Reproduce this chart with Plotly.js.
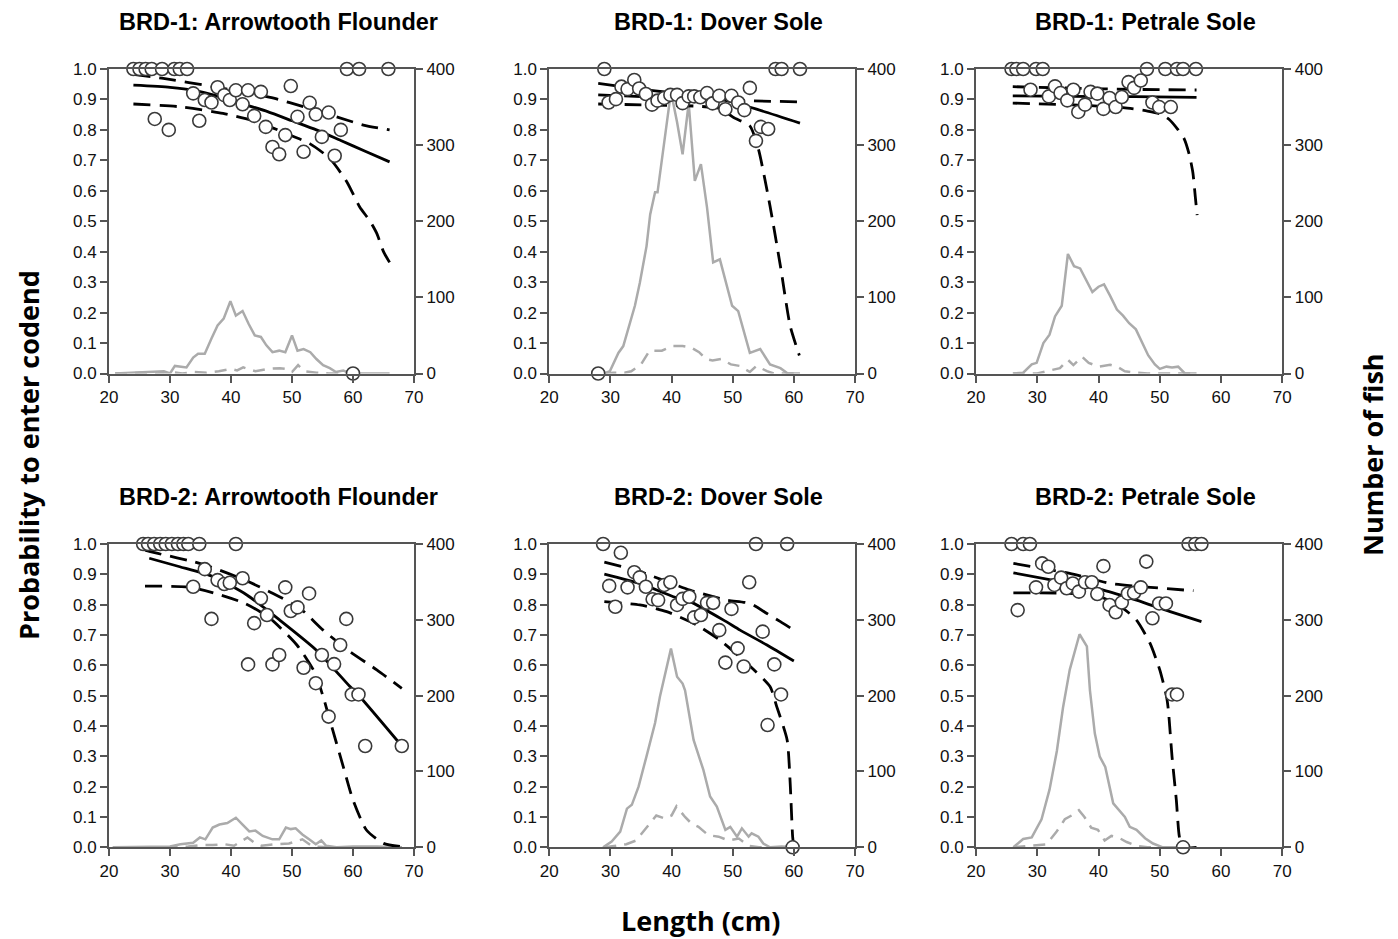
<!DOCTYPE html>
<html><head><meta charset="utf-8">
<script src="https://cdn.plot.ly/plotly-3.0.1.min.js"></script>
<style>html,body{margin:0;padding:0;background:#fff}</style>
</head><body><div id="chart" style="width:1398px;height:939px"></div>
<script>
// ---------- Panel titles ----------
const panelTitles = ['BRD-1: Arrowtooth Flounder','BRD-1: Dover Sole','BRD-1: Petrale Sole',
                     'BRD-2: Arrowtooth Flounder','BRD-2: Dover Sole','BRD-2: Petrale Sole'];
const xTicks = [20,30,40,50,60,70];
const probTicks = [0,0.1,0.2,0.3,0.4,0.5,0.6,0.7,0.8,0.9,1.0];
const countTicks = [0,100,200,300,400];

// ---------- BRD-1 Arrowtooth ----------
const lenA1 = [24,25,26,27,28.7,30.7,31.6,32.8,59,61,65.8,60,27.5,29.8,33.8,34.8,35.7,36.8,37.8,38.9,39.8,40.8,41.9,42.8,43.8,44.9,45.7,46.8,47.9,48.9,49.8,50.9,51.9,52.9,53.9,54.9,56,57,58];
const probA1 = [1,1,1,1,1,1,1,1,1,1,1,0,0.836,0.80,0.92,0.83,0.898,0.89,0.94,0.914,0.898,0.93,0.884,0.93,0.846,0.925,0.81,0.744,0.72,0.783,0.944,0.843,0.728,0.889,0.851,0.777,0.857,0.715,0.80];
const fitLenA1 = [24,30,34,38,42,46,50,54,58,62,66];
const fitA1    = [0.947,0.94,0.93,0.91,0.885,0.86,0.83,0.80,0.765,0.73,0.695];
const upLenA1  = [24,28.9,37.1,47,52.4,57.3,61.7,66];
const upA1     = [0.982,0.969,0.942,0.904,0.873,0.843,0.816,0.80];
const loLenA1  = [24,31.6,38.7,44.2,49.1,52.9,56.2,59,61.1,62.8,63.9,65,66];
const loA1     = [0.885,0.876,0.854,0.827,0.788,0.755,0.706,0.629,0.547,0.50,0.46,0.40,0.365];
const nLenA1   = [21,24,27,29,30,30.8,32.7,33.8,34.6,35.7,36.8,37.8,38.8,39.9,40.8,41.9,42.9,43.9,44.9,45.8,46.8,47.9,48.9,50,50.9,51.9,53,54,55.1,56.2,57.2,58.4,59.5,62,66];
const nTotA1   = [0,1,2,3,0,10,8,21,26,26,46,63,72,95,76,82,65,50,48,37,28,30,28,50,30,32,28,19,11,7,2,4,0,0,0];
const dLenA1   = [21,25,28,30,32,34,36,38,40,41,42,43,44,46,48,49,50,51,52,54,56,58,60];
const nSubA1   = [0,1,0,2,0,2,1,3,6,4,8,5,3,6,7,6,2,11,3,1,0,0,0];

// ---------- BRD-1 Dover ----------
const lenA2 = [29,57,58,61,28,29.7,30.9,31.8,32.8,33.9,34.7,35.8,36.8,37.7,38.8,39.8,40.9,41.8,42.8,43.7,44.7,45.8,46.7,47.8,48.8,49.8,50.9,51.9,52.8,53.8,54.6,55.8];
const probA2 = [1,1,1,1,0,0.89,0.901,0.942,0.934,0.964,0.936,0.918,0.883,0.896,0.905,0.915,0.915,0.888,0.91,0.91,0.907,0.921,0.887,0.912,0.868,0.912,0.89,0.865,0.938,0.764,0.81,0.803];
const fitLenA2 = [28,34.8,40,43,49,53.9,61];
const fitA2    = [0.953,0.934,0.922,0.915,0.896,0.868,0.822];
const upLenA2  = [28,40,50,61];
const upA2     = [0.915,0.905,0.897,0.892];
const loLenA2  = [28,36,44,48,50.1,52.8,54.2,56.1,57.8,59.4,60.9];
const loA2     = [0.885,0.882,0.878,0.87,0.841,0.813,0.737,0.55,0.353,0.156,0.059];
const nLenA2   = [28,29,29.9,31.3,32.1,34,34.8,35.9,36.5,37.3,37.7,39.9,40.9,41.8,42.8,43.8,44.8,45.8,46.8,47.9,49.9,50.9,52.8,54.5,56.1,57.8,59,61];
const nTotA2   = [0,0,3,27,36,89,119,167,209,238,238,370,330,288,355,253,275,218,146,150,89,82,27,32,12,7,0,0];
const dLenA2   = [29,30.5,32.3,33.4,35,36.4,38.4,40.1,41.8,43.2,44.5,45.6,46.7,48.1,49.7,51.1,52.8,53.9,55.6,56.7,60];
const nSubA2   = [0,1,1,3,12,30,30,36,36,34,28,19,17,19,12,10,2,10,3,0,0];

// ---------- BRD-1 Petrale ----------
const lenA3 = [25.8,26.6,27.7,29.8,30.9,47.9,50.9,52.8,53.8,55.9,28.9,31.9,32.9,33.8,34.9,35.9,36.7,37.8,38.7,39.8,40.8,41.8,42.8,43.8,44.9,45.8,46.9,48.8,49.9,51.8];
const probA3 = [1,1,1,1,1,1,1,1,1,1,0.932,0.91,0.943,0.921,0.897,0.932,0.859,0.883,0.925,0.919,0.869,0.905,0.875,0.908,0.957,0.938,0.962,0.89,0.875,0.875];
const fitLenA3 = [26,36,46,56];
const fitA3    = [0.912,0.91,0.909,0.907];
const upLenA3  = [26,36,46,56];
const upA3     = [0.942,0.937,0.933,0.931];
const loLenA3  = [26,36,44,48,50,51.5,53,54,54.8,55.4,55.8,56.1];
const loA3     = [0.888,0.882,0.873,0.862,0.853,0.835,0.80,0.77,0.72,0.66,0.58,0.52];
const nLenA3   = [26.1,27.7,29.1,29.9,31,32,32.9,34,35,36,37,38.1,39,40,40.9,41.9,43,44,45,46.1,47.1,48.1,49.2,50,51.1,52,53,54.1,56];
const nTotA3   = [0,1,12,14,40,51,75,89,157,141,138,121,107,114,117,102,84,76,66,58,41,24,12,6,9,8,9,0,0];
const dLenA3   = [26,30,31.5,33.7,35,35.9,37.3,38.4,40,41.9,43,44.3,46.2,48,56];
const nSubA3   = [0,0,3,7,18,11,22,14,9,11.5,9,3,1,0,0];

// ---------- BRD-2 Arrowtooth ----------
const lenB1 = [25.6,26.4,27.4,28.4,29.3,30.3,31.3,32.2,33.0,34.8,40.8,33.8,35.7,36.8,37.8,38.9,39.8,41.9,42.8,43.8,44.9,45.9,46.8,47.9,48.9,49.8,50.9,51.9,52.8,53.9,54.9,56,56.9,57.9,58.9,59.8,60.9,62,68];
const probB1 = [1,1,1,1,1,1,1,1,1,1,1,0.859,0.917,0.753,0.881,0.868,0.872,0.887,0.603,0.739,0.821,0.766,0.603,0.634,0.857,0.779,0.791,0.592,0.837,0.541,0.634,0.431,0.604,0.667,0.753,0.504,0.504,0.334,0.334];
const fitLenB1 = [26.6,31.6,37.1,42.6,48,54,59.5,61.1,68];
const fitB1    = [0.953,0.925,0.892,0.832,0.749,0.65,0.53,0.497,0.334];
const upLenB1  = [25.9,28.4,33.8,37.7,42.3,46.9,51.3,55.1,59.5,63.9,68];
const upB1     = [0.98,0.967,0.942,0.917,0.881,0.837,0.788,0.716,0.645,0.585,0.524];
const loLenB1  = [25.9,33,37.1,42.3,46.4,50.8,53.8,55.1,56.2,58.4,60,62.2,65,68];
const loB1     = [0.861,0.858,0.839,0.804,0.755,0.667,0.574,0.497,0.42,0.266,0.156,0.057,0.013,0.002];
const nLenB1   = [20.6,26,30,31.7,33.8,34.9,35.8,37,38.1,39.4,40.8,41.9,43,44,45.2,46.8,47.9,49,49.8,50.6,51.7,52.8,53.9,54.8,55.6,57.3,60,64,68];
const nTotB1   = [0,1,1,4,6,13,10.5,26,30,32,39,30,21,22,15,10.5,10.5,26,24,25,17,10.5,4,9,2,0,1,1,0];
const dLenB1   = [26,30,33,35,37,39,40.5,42.7,44,45,47.3,49.5,51.7,53.4,56,60,68];
const nSubB1   = [0,0,1,3,3,4,2,13,5,2,4,5,10.5,1,0,0,0];

// ---------- BRD-2 Dover ----------
const lenB2 = [28.8,53.8,58.9,59.8,31.7,29.8,30.8,32.8,33.9,34.8,35.8,36.9,37.8,38.8,39.8,40.9,41.8,42.9,43.7,44.8,45.8,46.8,47.8,48.8,49.8,50.8,51.8,52.7,54.9,56.8,57.9,55.7];
const probB2 = [1,1,1,0,0.971,0.862,0.793,0.857,0.907,0.89,0.859,0.818,0.815,0.865,0.874,0.799,0.819,0.826,0.758,0.766,0.806,0.806,0.716,0.609,0.786,0.656,0.596,0.874,0.711,0.603,0.504,0.403];
const fitLenB2 = [29,34.8,40.3,43,48.5,51.2,55.6,60];
const fitB2    = [0.901,0.87,0.826,0.81,0.749,0.716,0.667,0.614];
const upLenB2  = [29,34.8,43,49,52.8,55.6,57.8,60];
const upB2     = [0.94,0.909,0.848,0.815,0.804,0.771,0.744,0.716];
const loLenB2  = [29,34.8,39.2,44.1,47.9,52.3,56.1,57.2,58.9,59.4,59.8,60];
const loB2     = [0.81,0.799,0.777,0.733,0.683,0.607,0.53,0.464,0.354,0.211,0.035,0];
const nLenB2   = [28.8,30.2,31.6,32.7,33.5,34.6,35.9,37.3,38.1,39.9,40.9,41.8,42.2,43.6,45.2,46.3,47.4,48.8,49.6,50.7,51.5,52.6,53.1,54.2,55,56.1,58,60];
const nTotB2   = [0,7.5,20.6,51,56,80,120,164,199,262,225,216,207,141.5,102,67,53.6,23,27,14,25,14,18.5,14,5,0,1,0];
const dLenB2   = [29,30.7,32.6,34.2,36.2,37.5,38.9,40,40.8,42.2,43.3,44.4,46,47.7,49.3,51,52.6,54.3,60];
const nSubB2   = [0,2,4,9,28.6,42,38,42,54,40,31,27,16,14,9,11.5,2,0,0];

// ---------- BRD-2 Petrale ----------
const lenB3 = [25.8,27.7,28.8,54.7,55.8,56.8,53.8,26.8,29.8,30.8,31.8,32.8,33.9,34.8,35.8,36.8,37.8,38.9,39.8,40.8,41.8,42.8,43.8,44.8,45.8,46.9,47.8,48.8,49.9,51,52,52.8];
const probB3 = [1,1,1,1,1,1,0,0.782,0.857,0.936,0.925,0.865,0.889,0.854,0.87,0.843,0.874,0.874,0.835,0.927,0.799,0.775,0.807,0.837,0.839,0.857,0.942,0.755,0.804,0.804,0.504,0.504];
const fitLenB3 = [26.1,35.3,40.8,46.2,51.7,56.8];
const fitB3    = [0.905,0.87,0.848,0.815,0.777,0.744];
const upLenB3  = [26.1,35.3,41.9,47.3,55.5];
const upB3     = [0.936,0.903,0.87,0.859,0.846];
const loLenB3  = [26.1,35.3,40.8,44,46.2,48.4,50,51.1,51.4,52,52.7,53.2,53.8,56];
const loB3     = [0.839,0.837,0.822,0.788,0.749,0.673,0.585,0.497,0.453,0.299,0.156,0.035,0,0];
const nLenB3   = [26.1,27.7,29.1,30.7,32,33.2,34.2,35.3,36.9,38.1,38.6,39.4,40.2,41.1,42.4,43.5,44.3,45.1,46.2,47.6,48.9,50.5,53];
const nTotB3   = [0,11,13,37,76,127,184,234,281,265,207,150,119.5,106,58,47,40,27,23,12,5,0,0];
const dLenB3   = [26.1,29.6,31.5,33.1,34.5,35.6,36.8,37.7,38.8,39.9,41,42.1,43.2,44.6,46.2,48,54];
const nSubB3   = [0,2,4,20,37,42,49,40,26,23,9,15,13,7,2,0,0];

// ---------- assembly ----------
const series = [
  [lenA1,probA1,fitLenA1,fitA1,upLenA1,upA1,loLenA1,loA1,nLenA1,nTotA1,dLenA1,nSubA1],
  [lenA2,probA2,fitLenA2,fitA2,upLenA2,upA2,loLenA2,loA2,nLenA2,nTotA2,dLenA2,nSubA2],
  [lenA3,probA3,fitLenA3,fitA3,upLenA3,upA3,loLenA3,loA3,nLenA3,nTotA3,dLenA3,nSubA3],
  [lenB1,probB1,fitLenB1,fitB1,upLenB1,upB1,loLenB1,loB1,nLenB1,nTotB1,dLenB1,nSubB1],
  [lenB2,probB2,fitLenB2,fitB2,upLenB2,upB2,loLenB2,loB2,nLenB2,nTotB2,dLenB2,nSubB2],
  [lenB3,probB3,fitLenB3,fitB3,upLenB3,upB3,loLenB3,loB3,nLenB3,nTotB3,dLenB3,nSubB3]
];

const W = 1398, H = 939;
const colPx = [[109,414],[549.3,855],[976,1282.3]];
const rowPx = [[69,373.5],[544,847.3]];
const axisCol = '#555';
const tickFont = {family:'Liberation Sans, Arial, sans-serif', size:17, color:'#111'};

const data = [];
const layout = {
  width:W, height:H, margin:{l:0,r:0,t:0,b:0},
  paper_bgcolor:'#fff', plot_bgcolor:'rgba(0,0,0,0)', showlegend:false,
  annotations:[]
};

series.forEach((s,i)=>{
  const n = i+1;
  const col = colPx[i%3], row = rowPx[Math.floor(i/3)];
  const xd = [col[0]/W, col[1]/W];
  const yd = [1-row[1]/H, 1-row[0]/H];
  const xid = n===1?'x':'x'+n;
  const cId = 2*n-1, pId = 2*n;
  const cRef = cId===1?'y':'y'+cId, pRef = 'y'+pId;
  const xKey = n===1?'xaxis':'xaxis'+n;
  const cKey = cId===1?'yaxis':'yaxis'+cId, pKey='yaxis'+pId;
  const common = {showgrid:false, zeroline:false, showline:true, linecolor:axisCol, linewidth:2,
                  ticks:'outside', ticklen:7, tickwidth:2, tickcolor:axisCol, tickfont:tickFont, fixedrange:true};
  layout[xKey] = Object.assign({}, common, {domain:xd, anchor:cRef, range:[20,70], tickvals:xTicks, mirror:true});
  layout[cKey] = Object.assign({}, common, {domain:yd, anchor:xid, side:'right', range:[0,400], tickvals:countTicks});
  layout[pKey] = Object.assign({}, common, {domain:yd, anchor:xid, side:'left', overlaying:cRef, range:[0,1], tickvals:probTicks, tickformat:'.1f'});

  const [sl,sp,fl,fv,ul,uv,ll,lv,nl,nt,dl,nd] = s;
  // grey counts (base axis, drawn underneath)
  data.push({x:nl, y:nt, xaxis:xid, yaxis:cRef, type:'scatter', mode:'lines', line:{color:'#ababab', width:2.5}, hoverinfo:'skip'});
  data.push({x:dl, y:nd, xaxis:xid, yaxis:cRef, type:'scatter', mode:'lines', line:{color:'#ababab', width:2.5, dash:'12px,8px'}, hoverinfo:'skip'});
  // black curves
  data.push({x:ul, y:uv, xaxis:xid, yaxis:pRef, type:'scatter', mode:'lines', line:{color:'#000', width:2.8, dash:'17px,9px', shape:'spline', smoothing:0.6}});
  data.push({x:ll, y:lv, xaxis:xid, yaxis:pRef, type:'scatter', mode:'lines', line:{color:'#000', width:2.8, dash:'17px,9px', shape:'spline', smoothing:0.6}});
  data.push({x:fl, y:fv, xaxis:xid, yaxis:pRef, type:'scatter', mode:'lines', line:{color:'#000', width:2.8, shape:'spline', smoothing:0.6}});
  data.push({x:sl, y:sp, xaxis:xid, yaxis:pRef, type:'scatter', mode:'markers', cliponaxis:false,
             marker:{symbol:'circle', size:13, color:'#fff', line:{color:'#3a3a3a', width:1.6}}});

  layout.annotations.push({text:'<b>'+panelTitles[i]+'</b>', xref:'paper', yref:'paper',
     x:(col[0]+col[1])/2/W + 0.012, y:1-(row[0]-47)/H, xanchor:'center', yanchor:'middle', showarrow:false,
     font:{family:'Liberation Sans, Arial, sans-serif', size:23.5, color:'#000'}});
});

const labFont = {family:'Open Sans, Noto Sans, sans-serif', size:27, color:'#000'};
layout.annotations.push({text:'<b>Length (cm)</b>', xref:'paper', yref:'paper', x:700/W, y:1-920/H, xanchor:'center', yanchor:'middle', showarrow:false, font:labFont});
layout.annotations.push({text:'<b>Probability to enter codend</b>', xref:'paper', yref:'paper', x:28/W, y:1-455/H, xanchor:'center', yanchor:'middle', showarrow:false, textangle:-90, font:labFont});
layout.annotations.push({text:'<b>Number of fish</b>', xref:'paper', yref:'paper', x:1372/W, y:1-455/H, xanchor:'center', yanchor:'middle', showarrow:false, textangle:-90, font:labFont});

Plotly.newPlot('chart', data, layout, {staticPlot:true, displayModeBar:false});
</script></body></html>
